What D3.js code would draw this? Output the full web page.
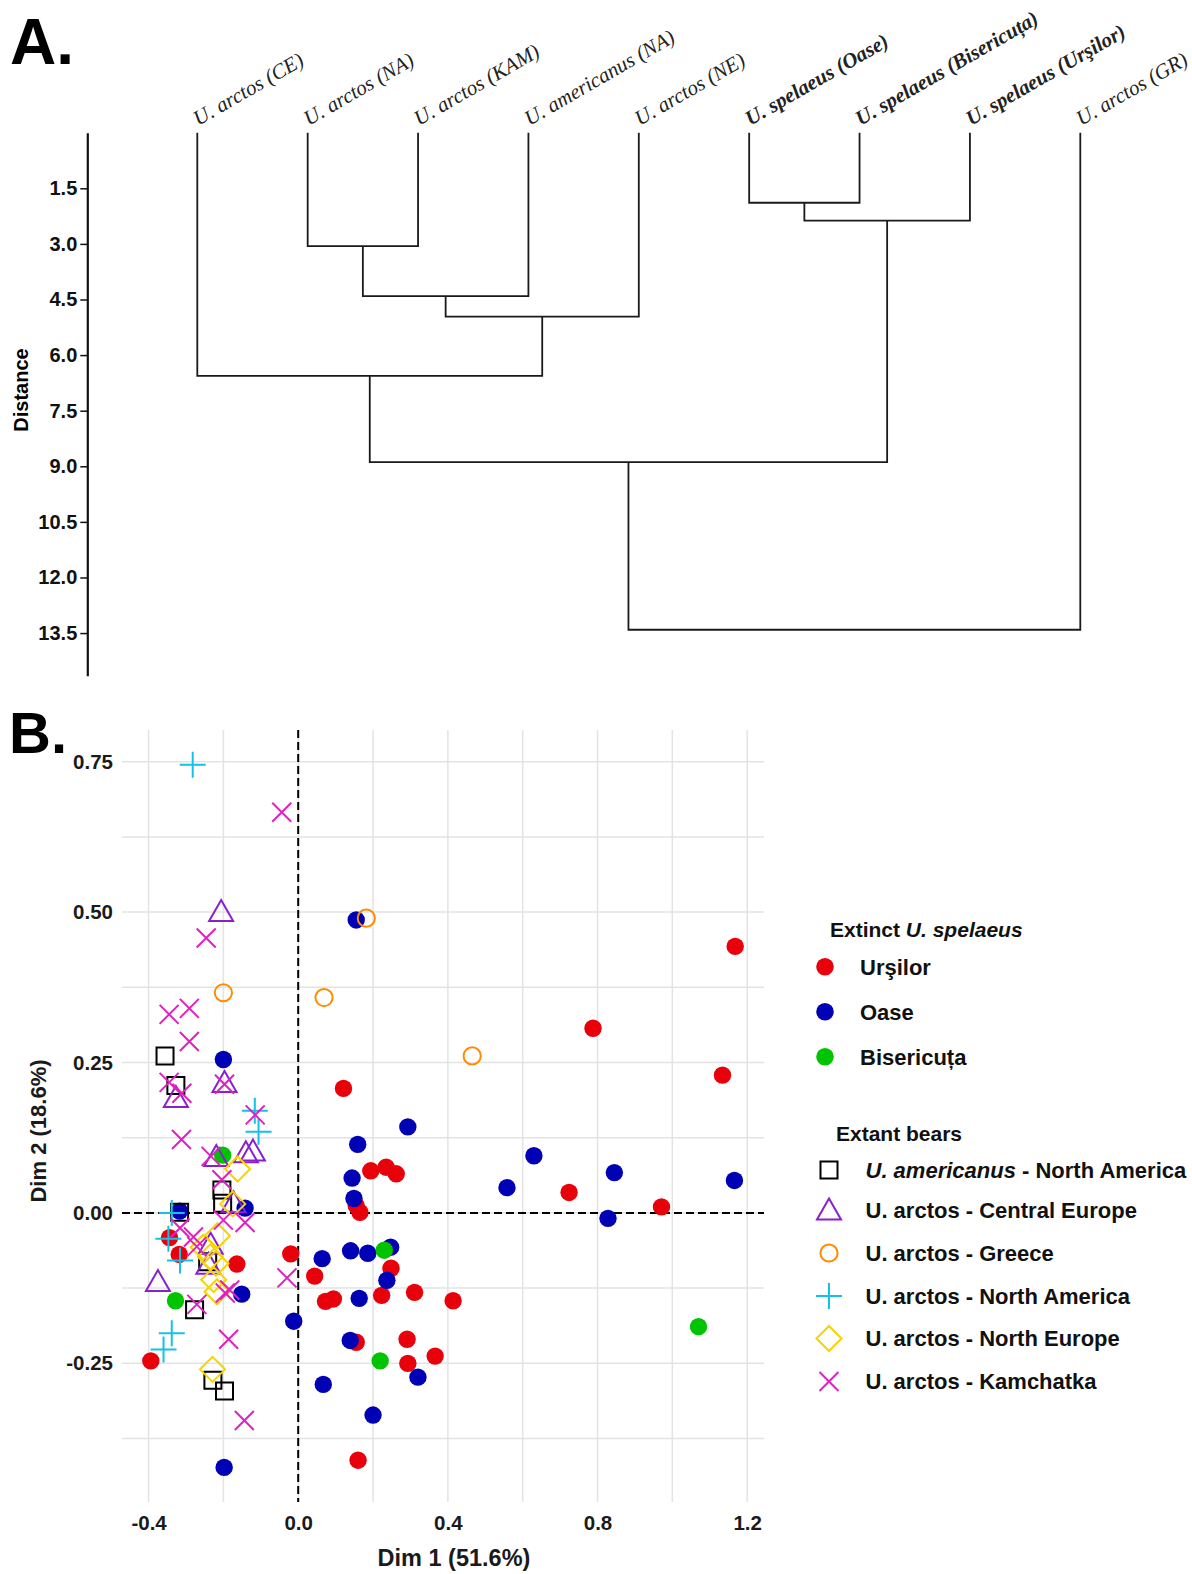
<!DOCTYPE html>
<html><head><meta charset="utf-8">
<script src="https://cdn.jsdelivr.net/npm/d3@7"></script>
<style>
body{margin:0;background:#fff}
svg{display:block;font-family:"Liberation Sans",Arial,sans-serif}
</style>
</head><body>
<svg id="c" width="1192" height="1574"></svg>
<script>
// ---------------- Panel A data (dendrogram, hclust-style merge table) ----------------
const leaves = ["U. arctos (CE)","U. arctos (NA)","U. arctos (KAM)","U. americanus (NA)","U. arctos (NE)",
                "U. spelaeus (Oase)","U. spelaeus (Bisericuța)","U. spelaeus (Urşilor)","U. arctos (GR)"];
const leafBold = [false,false,false,false,false,true,true,true,false];
// negative = leaf (1-based), positive = earlier merge (1-based)
const mergeLeft   = [-6, 1, -2, 3, 4, -1, 6, 7];
const mergeRight  = [-7, -8, -3, -4, -5, 5, 2, -9];
const mergeHeight = [1.89, 2.37, 3.06, 4.41, 4.96, 6.56, 8.89, 13.41];
const distTicks = [1.5, 3.0, 4.5, 6.0, 7.5, 9.0, 10.5, 12.0, 13.5];

// ---------------- Panel B data (PCA scatter) ----------------
const ursilor = [[1.168,0.443],[0.788,0.307],[1.134,0.229],[0.121,0.207],[0.194,0.070],[0.235,0.076],[0.262,0.065],
  [0.724,0.034],[0.155,0.012],[0.165,0.001],[0.971,0.010],[-0.020,-0.068],[0.248,-0.092],[0.044,-0.105],[0.311,-0.132],
  [0.414,-0.146],[0.073,-0.147],[0.094,-0.143],[0.223,-0.137],[0.155,-0.215],[0.291,-0.210],[0.293,-0.250],[0.366,-0.238],
  [0.160,-0.411],[-0.394,-0.246],[-0.344,-0.041],[-0.318,-0.069],[-0.164,-0.085]];
const oase = [[0.155,0.487],[0.293,0.143],[0.159,0.114],[0.630,0.095],[0.845,0.067],[0.144,0.058],[0.558,0.042],
  [1.166,0.054],[0.149,0.024],[0.828,-0.009],[0.064,-0.076],[0.140,-0.063],[0.186,-0.067],[0.247,-0.057],[0.237,-0.112],
  [0.163,-0.142],[-0.012,-0.180],[0.139,-0.212],[0.320,-0.273],[0.067,-0.285],[0.200,-0.336],[-0.198,-0.423],
  [-0.200,0.255],[-0.151,-0.135],[-0.142,0.008],[-0.317,0.003]];
const bisericuta = [[0.230,-0.062],[1.070,-0.189],[0.219,-0.246],[-0.202,0.096],[-0.328,-0.146]];
const americanusNA = [[-0.356,0.261],[-0.327,0.212],[-0.204,0.038],[-0.202,0.016],[-0.317,0.001],[-0.242,-0.081],
  [-0.277,-0.161],[-0.228,-0.278],[-0.197,-0.296]];
const arctosCE = [[-0.206,0.500],[-0.327,0.191],[-0.197,0.216],[-0.219,0.093],[-0.140,0.099],[-0.121,0.102],
  [-0.173,0.016],[-0.234,-0.053],[-0.240,-0.086],[-0.375,-0.115]];
const arctosGR = [[0.182,0.490],[0.069,0.358],[0.465,0.261],[-0.200,0.366]];
const arctosNA = [[-0.282,0.745],[-0.116,0.170],[-0.106,0.135],[-0.338,0.000],[-0.347,-0.043],[-0.316,-0.079],
  [-0.338,-0.200],[-0.360,-0.227]];
const arctosNE = [[-0.162,0.073],[-0.175,0.015],[-0.216,-0.038],[-0.254,-0.057],[-0.235,-0.073],[-0.220,-0.084],
  [-0.226,-0.111],[-0.217,-0.131],[-0.229,-0.260]];
const arctosKAM = [[-0.044,0.666],[-0.246,0.457],[-0.345,0.330],[-0.291,0.340],[-0.291,0.285],[-0.345,0.217],
  [-0.311,0.199],[-0.197,0.214],[-0.115,0.163],[-0.312,0.122],[-0.233,0.094],[-0.204,0.055],[-0.200,-0.012],
  [-0.142,-0.016],[-0.316,-0.025],[-0.280,-0.040],[-0.271,-0.056],[-0.195,-0.133],[-0.183,-0.128],[-0.271,-0.152],
  [-0.186,-0.210],[-0.144,-0.345],[-0.030,-0.108]];

const extinctNames = ["Urşilor","Oase","Bisericuța"];
const extinctColors = ["#e8000b","#0000b4","#00c400"];
const extinctData = [ursilor, oase, bisericuta];

const extantNames = ["North America","U. arctos - Central Europe","U. arctos - Greece","U. arctos - North America",
                     "U. arctos - North Europe","U. arctos - Kamchatka"];
const extantColors = ["#000000","#8a1fd0","#ff8c00","#16c0e8","#f5d400","#e020c0"];
const extantShapes = ["square","triangle","circle","plus","diamond","cross"];
const extantData = [americanusNA, arctosCE, arctosGR, arctosNA, arctosNE, arctosKAM];

const xTicks = [-0.4, 0.0, 0.4, 0.8, 1.2];
const xGrid = [-0.4,-0.2,0,0.2,0.4,0.6,0.8,1.0,1.2];
const yTicks = [-0.25, 0.00, 0.25, 0.50, 0.75];
const yGrid = [-0.375,-0.25,-0.125,0,0.125,0.25,0.375,0.5,0.625,0.75];

// ---------------- drawing ----------------
const svg = d3.select("#c");
svg.append("rect").attr("width",1192).attr("height",1574).attr("fill","#fff");

// Panel labels
svg.append("text").attr("x",10).attr("y",64).attr("font-size",64).attr("font-weight","bold").text("A.");
svg.append("text").attr("x",9).attr("y",753).attr("font-size",58).attr("font-weight","bold").text("B.");

// ===== Dendrogram =====
const leafX = d3.scalePoint().domain(leaves).range([197.3, 1080.3]);
const distY = d3.scaleLinear().domain([0, 14.65]).range([132.7, 675.7]);

const nodeX = [];
function childPos(i){
  if (i < 0) return {x: leafX(leaves[-i-1]), h: 0};
  return {x: nodeX[i-1], h: mergeHeight[i-1]};
}
const mergePaths = mergeHeight.map((h,k) => {
  const a = childPos(mergeLeft[k]), b = childPos(mergeRight[k]);
  nodeX[k] = (a.x + b.x)/2;
  return `M${a.x},${distY(a.h)}V${distY(h)}H${b.x}V${distY(b.h)}`;
});
svg.append("g").selectAll("path").data(mergePaths).join("path")
  .attr("d", d=>d).attr("fill","none").attr("stroke","#1a1a1a").attr("stroke-width",1.8);

const dAxis = svg.append("g").attr("transform","translate(87.3,0)")
  .call(d3.axisLeft(distY).tickValues(distTicks).tickFormat(d3.format(".1f")).tickSize(7).tickSizeOuter(0).tickPadding(3));
dAxis.select(".domain").attr("stroke","#111").attr("stroke-width",2.2);
dAxis.selectAll(".tick line").attr("stroke","#111").attr("stroke-width",1.5);
dAxis.selectAll(".tick text").attr("font-size",20).attr("font-weight","bold").attr("fill","#111")
  .attr("font-family","'Liberation Sans',Arial,sans-serif");

svg.append("text").attr("transform","translate(28,390) rotate(-90)").attr("text-anchor","middle")
  .attr("font-size",20).attr("font-weight","bold").text("Distance");

svg.append("g").selectAll("text").data(leaves).join("text")
  .attr("transform", d => `translate(${leafX(d)+1},126) rotate(-30)`)
  .attr("font-family","'Liberation Serif','Times New Roman',serif")
  .attr("font-style","italic").attr("font-size",21)
  .attr("font-weight",(d,i)=>leafBold[i]?"bold":"normal")
  .attr("fill","#222")
  .text(d=>d);

// ===== Scatter =====
const px = d3.scaleLinear().domain([-0.471, 1.245]).range([122, 764]);
const py = d3.scaleLinear().domain([-0.4805, 0.8027]).range([1502, 730]);

const grid = svg.append("g");
grid.selectAll("line.v").data(xGrid).join("line").attr("class","v")
  .attr("x1",d=>px(d)).attr("x2",d=>px(d)).attr("y1",py(-0.4805)).attr("y2",py(0.8027))
  .attr("stroke","#e3e3e3").attr("stroke-width",1.5);
grid.selectAll("line.h").data(yGrid).join("line").attr("class","h")
  .attr("y1",d=>py(d)).attr("y2",d=>py(d)).attr("x1",px(-0.471)).attr("x2",px(1.245))
  .attr("stroke","#e3e3e3").attr("stroke-width",1.5);

// zero reference lines
svg.append("line").attr("x1",px(0)).attr("x2",px(0)).attr("y1",py(0.8027)).attr("y2",py(-0.4805))
  .attr("stroke","#000").attr("stroke-width",2).attr("stroke-dasharray","8,4");
svg.append("line").attr("x1",px(-0.471)).attr("x2",px(1.245)).attr("y1",py(0)).attr("y2",py(0))
  .attr("stroke","#000").attr("stroke-width",2).attr("stroke-dasharray","8,4");

// axes
const xAxis = svg.append("g").attr("transform",`translate(0,${py(-0.4805)})`)
  .call(d3.axisBottom(px).tickValues(xTicks).tickFormat(d3.format(".1f")).tickSize(0).tickPadding(13));
const yAxis = svg.append("g").attr("transform",`translate(${px(-0.471)},0)`)
  .call(d3.axisLeft(py).tickValues(yTicks).tickFormat(d3.format(".2f")).tickSize(0).tickPadding(9));
[xAxis,yAxis].forEach(a=>{
  a.select(".domain").remove();
  a.selectAll(".tick text").attr("font-size",20.5).attr("font-weight","bold").attr("fill","#1a1a1a")
    .attr("font-family","'Liberation Sans',Arial,sans-serif");
});
xAxis.selectAll(".tick text").text(d => d3.format(".1f")(d).replace("−","-"));
yAxis.selectAll(".tick text").text(d => d3.format(".2f")(d).replace("−","-"));

svg.append("text").attr("x",454).attr("y",1566).attr("text-anchor","middle")
  .attr("font-size",23.5).attr("font-weight","bold").attr("fill","#1a1a1a").text("Dim 1 (51.6%)");
svg.append("text").attr("transform","translate(46,1131) rotate(-90)").attr("text-anchor","middle")
  .attr("font-size",22).attr("font-weight","bold").attr("fill","#1a1a1a").text("Dim 2 (18.6%)");

function shapePath(s){
  if (s==="square") return "M-8.5,-8.5H8.5V8.5H-8.5Z";
  if (s==="triangle") return "M0,-12L12,9L-12,9Z";
  if (s==="plus") return "M-13,0H13M0,-13V13";
  if (s==="diamond") return "M0,-12.5L12.5,0L0,12.5L-12.5,0Z";
  if (s==="cross") return "M-9.5,-9.5L9.5,9.5M-9.5,9.5L9.5,-9.5";
  return d3.arc()({innerRadius:0,outerRadius:8.6,startAngle:0,endAngle:2*Math.PI});
}

// extinct: filled circles
extinctData.forEach((pts,i)=>{
  svg.append("g").selectAll("circle").data(pts).join("circle")
    .attr("cx",d=>px(d[0])).attr("cy",d=>py(d[1])).attr("r",8.7).attr("fill",extinctColors[i]);
});
// extant: open symbols
extantData.forEach((pts,i)=>{
  svg.append("g").selectAll("path").data(pts).join("path")
    .attr("transform",d=>`translate(${px(d[0])},${py(d[1])})`)
    .attr("d",shapePath(extantShapes[i])).attr("fill","none")
    .attr("stroke",extantColors[i]).attr("stroke-width",2);
});

// ===== Legend =====
const lg = svg.append("g").attr("font-weight","bold").attr("font-size",22).attr("fill","#111");
const t1 = lg.append("text").attr("x",830).attr("y",937).attr("font-size",21);
t1.append("tspan").text("Extinct ");
t1.append("tspan").attr("font-style","italic").text("U. spelaeus");

const exY = [966.7, 1011.7, 1056.7];
lg.selectAll("circle.ex").data(extinctNames).join("circle").attr("class","ex")
  .attr("cx",825).attr("cy",(d,i)=>exY[i]).attr("r",8.8).attr("fill",(d,i)=>extinctColors[i]);
lg.selectAll("text.ex").data(extinctNames).join("text").attr("class","ex")
  .attr("x",860).attr("y",(d,i)=>exY[i]+8.5).text(d=>d);

lg.append("text").attr("x",836).attr("y",1140.7).attr("font-size",21).text("Extant bears");
const etY = [1170, 1210.5, 1253, 1296, 1338.5, 1381.5];
lg.selectAll("path.et").data(extantShapes).join("path").attr("class","et")
  .attr("transform",(d,i)=>`translate(829,${etY[i]})`)
  .attr("d",d=>shapePath(d)).attr("fill","none")
  .attr("stroke",(d,i)=>extantColors[i]).attr("stroke-width",2);
lg.selectAll("text.et").data(extantNames).join("text").attr("class","et")
  .attr("x",865.5).attr("y",(d,i)=>etY[i]+7.8)
  .each(function(d,i){
    const t = d3.select(this);
    if (i===0){
      t.append("tspan").attr("font-style","italic").text("U. americanus");
      t.append("tspan").text(" - " + d);
    } else t.text(d);
  });
</script>
</body></html>
